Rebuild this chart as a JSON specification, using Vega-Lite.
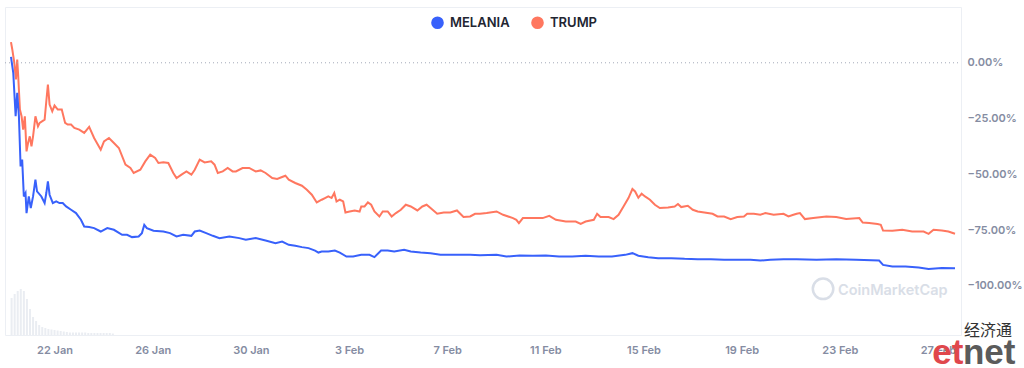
{
  "$schema": "https://vega.github.io/schema/vega-lite/v6.json",
  "width": 956,
  "height": 328,
  "autosize": {"type": "none"},
  "padding": {"left": 5, "top": 7, "right": 63, "bottom": 33},
  "background": "#ffffff",
  "config": {"view": {"stroke": "#eceff4", "strokeWidth": 1}, "font": "Inter"},
  "datasets": {
    "volume": [
      {"time": "2025-01-20T06:00", "vol": 74}, {"time": "2025-01-20T09:00", "vol": 82}, {"time": "2025-01-20T12:00", "vol": 88},
      {"time": "2025-01-20T15:00", "vol": 92}, {"time": "2025-01-20T18:00", "vol": 88}, {"time": "2025-01-20T21:00", "vol": 72},
      {"time": "2025-01-21T00:00", "vol": 52}, {"time": "2025-01-21T03:00", "vol": 36}, {"time": "2025-01-21T06:00", "vol": 28},
      {"time": "2025-01-21T09:00", "vol": 20}, {"time": "2025-01-21T12:00", "vol": 16}, {"time": "2025-01-21T15:00", "vol": 14},
      {"time": "2025-01-21T18:00", "vol": 12}, {"time": "2025-01-21T21:00", "vol": 11}, {"time": "2025-01-22T00:00", "vol": 10},
      {"time": "2025-01-22T03:00", "vol": 9}, {"time": "2025-01-22T06:00", "vol": 8}, {"time": "2025-01-22T09:00", "vol": 7},
      {"time": "2025-01-22T12:00", "vol": 6}, {"time": "2025-01-22T15:00", "vol": 5}, {"time": "2025-01-22T18:00", "vol": 5},
      {"time": "2025-01-22T21:00", "vol": 5}, {"time": "2025-01-23T00:00", "vol": 5}, {"time": "2025-01-23T03:00", "vol": 5},
      {"time": "2025-01-23T06:00", "vol": 5}, {"time": "2025-01-23T09:00", "vol": 4}, {"time": "2025-01-23T12:00", "vol": 4},
      {"time": "2025-01-23T15:00", "vol": 4}, {"time": "2025-01-23T18:00", "vol": 4}, {"time": "2025-01-23T21:00", "vol": 4},
      {"time": "2025-01-24T00:00", "vol": 4}, {"time": "2025-01-24T03:00", "vol": 4}, {"time": "2025-01-24T06:00", "vol": 4},
      {"time": "2025-01-24T09:00", "vol": 3}
    ],
    "prices": [
      {"time": "2025-01-20T05:25", "coin": "TRUMP", "change": 9.25},
      {"time": "2025-01-20T06:41", "coin": "TRUMP", "change": 5.97},
      {"time": "2025-01-20T08:37", "coin": "TRUMP", "change": 0.13},
      {"time": "2025-01-20T10:16", "coin": "TRUMP", "change": -7.5},
      {"time": "2025-01-20T11:31", "coin": "TRUMP", "change": 1.48},
      {"time": "2025-01-20T12:29", "coin": "TRUMP", "change": -6.02},
      {"time": "2025-01-20T14:08", "coin": "TRUMP", "change": -20.97},
      {"time": "2025-01-20T15:46", "coin": "TRUMP", "change": -23.98},
      {"time": "2025-01-20T17:19", "coin": "TRUMP", "change": -29.95},
      {"time": "2025-01-20T18:58", "coin": "TRUMP", "change": -23.98},
      {"time": "2025-01-20T20:37", "coin": "TRUMP", "change": -39.69},
      {"time": "2025-01-20T22:10", "coin": "TRUMP", "change": -35.79},
      {"time": "2025-01-20T23:48", "coin": "TRUMP", "change": -32.96},
      {"time": "2025-01-21T01:27", "coin": "TRUMP", "change": -37.45},
      {"time": "2025-01-21T03:00", "coin": "TRUMP", "change": -32.96},
      {"time": "2025-01-21T05:19", "coin": "TRUMP", "change": -23.98},
      {"time": "2025-01-21T07:50", "coin": "TRUMP", "change": -28.47},
      {"time": "2025-01-21T09:29", "coin": "TRUMP", "change": -26.94},
      {"time": "2025-01-21T14:19", "coin": "TRUMP", "change": -25.46},
      {"time": "2025-01-21T15:58", "coin": "TRUMP", "change": -17.24},
      {"time": "2025-01-21T17:31", "coin": "TRUMP", "change": -9.74},
      {"time": "2025-01-21T19:10", "coin": "TRUMP", "change": -18.72},
      {"time": "2025-01-21T21:46", "coin": "TRUMP", "change": -21.73},
      {"time": "2025-01-22T00:00", "coin": "TRUMP", "change": -19.17},
      {"time": "2025-01-22T03:11", "coin": "TRUMP", "change": -20.97},
      {"time": "2025-01-22T07:04", "coin": "TRUMP", "change": -20.97},
      {"time": "2025-01-22T10:21", "coin": "TRUMP", "change": -26.94},
      {"time": "2025-01-22T12:52", "coin": "TRUMP", "change": -27.71},
      {"time": "2025-01-22T16:10", "coin": "TRUMP", "change": -27.71},
      {"time": "2025-01-22T19:21", "coin": "TRUMP", "change": -29.19},
      {"time": "2025-01-23T00:11", "coin": "TRUMP", "change": -29.95},
      {"time": "2025-01-23T05:02", "coin": "TRUMP", "change": -31.43},
      {"time": "2025-01-23T09:52", "coin": "TRUMP", "change": -28.74},
      {"time": "2025-01-23T14:43", "coin": "TRUMP", "change": -33.68},
      {"time": "2025-01-23T21:11", "coin": "TRUMP", "change": -38.93},
      {"time": "2025-01-24T00:23", "coin": "TRUMP", "change": -35.2},
      {"time": "2025-01-24T05:13", "coin": "TRUMP", "change": -33.68},
      {"time": "2025-01-24T10:04", "coin": "TRUMP", "change": -35.92},
      {"time": "2025-01-24T14:54", "coin": "TRUMP", "change": -38.17},
      {"time": "2025-01-24T21:23", "coin": "TRUMP", "change": -45.67},
      {"time": "2025-01-25T02:13", "coin": "TRUMP", "change": -47.15},
      {"time": "2025-01-25T05:25", "coin": "TRUMP", "change": -49.39},
      {"time": "2025-01-25T11:54", "coin": "TRUMP", "change": -47.91},
      {"time": "2025-01-25T16:44", "coin": "TRUMP", "change": -44.19},
      {"time": "2025-01-25T21:35", "coin": "TRUMP", "change": -41.18},
      {"time": "2025-01-26T02:25", "coin": "TRUMP", "change": -42.66},
      {"time": "2025-01-26T05:37", "coin": "TRUMP", "change": -44.9},
      {"time": "2025-01-26T10:27", "coin": "TRUMP", "change": -44.63},
      {"time": "2025-01-26T15:17", "coin": "TRUMP", "change": -44.9},
      {"time": "2025-01-26T20:08", "coin": "TRUMP", "change": -49.39},
      {"time": "2025-01-26T23:19", "coin": "TRUMP", "change": -51.64},
      {"time": "2025-01-27T04:10", "coin": "TRUMP", "change": -50.16},
      {"time": "2025-01-27T09:00", "coin": "TRUMP", "change": -48.68},
      {"time": "2025-01-27T13:50", "coin": "TRUMP", "change": -50.16},
      {"time": "2025-01-27T17:07", "coin": "TRUMP", "change": -47.91},
      {"time": "2025-01-27T21:58", "coin": "TRUMP", "change": -43.42},
      {"time": "2025-01-28T02:48", "coin": "TRUMP", "change": -44.63},
      {"time": "2025-01-28T09:11", "coin": "TRUMP", "change": -44.19},
      {"time": "2025-01-28T12:29", "coin": "TRUMP", "change": -45.67},
      {"time": "2025-01-28T15:41", "coin": "TRUMP", "change": -49.39},
      {"time": "2025-01-28T20:31", "coin": "TRUMP", "change": -48.68},
      {"time": "2025-01-29T01:21", "coin": "TRUMP", "change": -47.15},
      {"time": "2025-01-29T06:11", "coin": "TRUMP", "change": -48.68},
      {"time": "2025-01-29T09:23", "coin": "TRUMP", "change": -48.68},
      {"time": "2025-01-29T15:52", "coin": "TRUMP", "change": -47.15},
      {"time": "2025-01-29T22:22", "coin": "TRUMP", "change": -47.15},
      {"time": "2025-01-30T04:45", "coin": "TRUMP", "change": -48.68},
      {"time": "2025-01-30T09:35", "coin": "TRUMP", "change": -48.23},
      {"time": "2025-01-30T14:25", "coin": "TRUMP", "change": -49.39},
      {"time": "2025-01-30T20:55", "coin": "TRUMP", "change": -51.64},
      {"time": "2025-01-31T01:45", "coin": "TRUMP", "change": -52.09},
      {"time": "2025-01-31T06:35", "coin": "TRUMP", "change": -51.19},
      {"time": "2025-01-31T09:47", "coin": "TRUMP", "change": -50.61},
      {"time": "2025-01-31T13:04", "coin": "TRUMP", "change": -52.4},
      {"time": "2025-01-31T19:27", "coin": "TRUMP", "change": -53.88},
      {"time": "2025-02-01T01:56", "coin": "TRUMP", "change": -55.1},
      {"time": "2025-02-01T06:46", "coin": "TRUMP", "change": -56.89},
      {"time": "2025-02-01T11:37", "coin": "TRUMP", "change": -59.14},
      {"time": "2025-02-01T16:27", "coin": "TRUMP", "change": -62.6},
      {"time": "2025-02-01T21:17", "coin": "TRUMP", "change": -61.38},
      {"time": "2025-02-02T00:29", "coin": "TRUMP", "change": -60.62},
      {"time": "2025-02-02T03:46", "coin": "TRUMP", "change": -59.9},
      {"time": "2025-02-02T06:58", "coin": "TRUMP", "change": -60.62},
      {"time": "2025-02-02T09:35", "coin": "TRUMP", "change": -58.37},
      {"time": "2025-02-02T11:48", "coin": "TRUMP", "change": -62.15},
      {"time": "2025-02-02T15:00", "coin": "TRUMP", "change": -61.38},
      {"time": "2025-02-02T18:17", "coin": "TRUMP", "change": -62.15},
      {"time": "2025-02-02T20:31", "coin": "TRUMP", "change": -67.09},
      {"time": "2025-02-03T00:40", "coin": "TRUMP", "change": -66.64},
      {"time": "2025-02-03T05:31", "coin": "TRUMP", "change": -66.19},
      {"time": "2025-02-03T10:21", "coin": "TRUMP", "change": -66.64},
      {"time": "2025-02-03T11:59", "coin": "TRUMP", "change": -64.39},
      {"time": "2025-02-03T15:11", "coin": "TRUMP", "change": -64.39},
      {"time": "2025-02-03T18:28", "coin": "TRUMP", "change": -62.6},
      {"time": "2025-02-03T21:40", "coin": "TRUMP", "change": -63.63},
      {"time": "2025-02-04T00:52", "coin": "TRUMP", "change": -66.64},
      {"time": "2025-02-04T05:42", "coin": "TRUMP", "change": -68.88},
      {"time": "2025-02-04T08:59", "coin": "TRUMP", "change": -66.64},
      {"time": "2025-02-04T13:50", "coin": "TRUMP", "change": -66.64},
      {"time": "2025-02-04T17:42", "coin": "TRUMP", "change": -68.88},
      {"time": "2025-02-04T21:52", "coin": "TRUMP", "change": -67.36},
      {"time": "2025-02-05T02:42", "coin": "TRUMP", "change": -65.87},
      {"time": "2025-02-05T07:32", "coin": "TRUMP", "change": -63.63},
      {"time": "2025-02-05T12:23", "coin": "TRUMP", "change": -64.39},
      {"time": "2025-02-05T18:52", "coin": "TRUMP", "change": -66.19},
      {"time": "2025-02-05T23:43", "coin": "TRUMP", "change": -64.39},
      {"time": "2025-02-06T03:52", "coin": "TRUMP", "change": -63.63},
      {"time": "2025-02-06T07:44", "coin": "TRUMP", "change": -65.11},
      {"time": "2025-02-06T14:13", "coin": "TRUMP", "change": -67.67},
      {"time": "2025-02-06T20:37", "coin": "TRUMP", "change": -67.09},
      {"time": "2025-02-07T03:05", "coin": "TRUMP", "change": -67.09},
      {"time": "2025-02-07T09:34", "coin": "TRUMP", "change": -66.19},
      {"time": "2025-02-07T15:58", "coin": "TRUMP", "change": -69.15},
      {"time": "2025-02-07T22:27", "coin": "TRUMP", "change": -68.88},
      {"time": "2025-02-08T03:17", "coin": "TRUMP", "change": -67.67},
      {"time": "2025-02-08T08:08", "coin": "TRUMP", "change": -67.67},
      {"time": "2025-02-08T14:37", "coin": "TRUMP", "change": -67.36},
      {"time": "2025-02-09T00:17", "coin": "TRUMP", "change": -66.64},
      {"time": "2025-02-09T06:41", "coin": "TRUMP", "change": -68.12},
      {"time": "2025-02-09T16:22", "coin": "TRUMP", "change": -69.6},
      {"time": "2025-02-09T19:39", "coin": "TRUMP", "change": -70.36},
      {"time": "2025-02-09T22:10", "coin": "TRUMP", "change": -71.85},
      {"time": "2025-02-10T02:02", "coin": "TRUMP", "change": -69.6},
      {"time": "2025-02-10T11:43", "coin": "TRUMP", "change": -69.6},
      {"time": "2025-02-10T21:23", "coin": "TRUMP", "change": -69.6},
      {"time": "2025-02-11T03:52", "coin": "TRUMP", "change": -68.57},
      {"time": "2025-02-11T10:22", "coin": "TRUMP", "change": -70.36},
      {"time": "2025-02-11T20:02", "coin": "TRUMP", "change": -71.13},
      {"time": "2025-02-12T05:43", "coin": "TRUMP", "change": -71.13},
      {"time": "2025-02-12T10:33", "coin": "TRUMP", "change": -72.16},
      {"time": "2025-02-12T15:23", "coin": "TRUMP", "change": -71.13},
      {"time": "2025-02-12T23:25", "coin": "TRUMP", "change": -70.36},
      {"time": "2025-02-13T02:37", "coin": "TRUMP", "change": -67.67},
      {"time": "2025-02-13T05:55", "coin": "TRUMP", "change": -69.15},
      {"time": "2025-02-13T13:56", "coin": "TRUMP", "change": -69.15},
      {"time": "2025-02-13T18:46", "coin": "TRUMP", "change": -70.05},
      {"time": "2025-02-13T23:37", "coin": "TRUMP", "change": -68.12},
      {"time": "2025-02-14T04:27", "coin": "TRUMP", "change": -64.39},
      {"time": "2025-02-14T09:17", "coin": "TRUMP", "change": -60.62},
      {"time": "2025-02-14T13:10", "coin": "TRUMP", "change": -56.58},
      {"time": "2025-02-14T15:47", "coin": "TRUMP", "change": -57.66},
      {"time": "2025-02-14T18:58", "coin": "TRUMP", "change": -60.5},
      {"time": "2025-02-14T22:10", "coin": "TRUMP", "change": -58.69},
      {"time": "2025-02-15T01:28", "coin": "TRUMP", "change": -59.9},
      {"time": "2025-02-15T06:18", "coin": "TRUMP", "change": -61.38},
      {"time": "2025-02-15T11:08", "coin": "TRUMP", "change": -63.63},
      {"time": "2025-02-15T15:58", "coin": "TRUMP", "change": -65.11},
      {"time": "2025-02-16T00:00", "coin": "TRUMP", "change": -64.84},
      {"time": "2025-02-16T06:29", "coin": "TRUMP", "change": -64.39},
      {"time": "2025-02-16T09:41", "coin": "TRUMP", "change": -63.31},
      {"time": "2025-02-16T12:53", "coin": "TRUMP", "change": -64.66},
      {"time": "2025-02-16T19:21", "coin": "TRUMP", "change": -64.08},
      {"time": "2025-02-17T00:11", "coin": "TRUMP", "change": -65.87},
      {"time": "2025-02-17T05:02", "coin": "TRUMP", "change": -66.64},
      {"time": "2025-02-17T11:31", "coin": "TRUMP", "change": -67.09},
      {"time": "2025-02-17T19:33", "coin": "TRUMP", "change": -67.67},
      {"time": "2025-02-18T00:23", "coin": "TRUMP", "change": -68.88},
      {"time": "2025-02-18T06:52", "coin": "TRUMP", "change": -68.88},
      {"time": "2025-02-18T13:16", "coin": "TRUMP", "change": -70.05},
      {"time": "2025-02-18T19:44", "coin": "TRUMP", "change": -69.15},
      {"time": "2025-02-19T02:14", "coin": "TRUMP", "change": -68.88},
      {"time": "2025-02-19T05:25", "coin": "TRUMP", "change": -67.67},
      {"time": "2025-02-19T11:54", "coin": "TRUMP", "change": -67.67},
      {"time": "2025-02-19T18:17", "coin": "TRUMP", "change": -68.12},
      {"time": "2025-02-19T23:08", "coin": "TRUMP", "change": -67.36},
      {"time": "2025-02-20T07:16", "coin": "TRUMP", "change": -68.12},
      {"time": "2025-02-20T16:56", "coin": "TRUMP", "change": -67.67},
      {"time": "2025-02-20T21:47", "coin": "TRUMP", "change": -68.88},
      {"time": "2025-02-21T02:37", "coin": "TRUMP", "change": -68.12},
      {"time": "2025-02-21T05:48", "coin": "TRUMP", "change": -67.67},
      {"time": "2025-02-21T09:00", "coin": "TRUMP", "change": -67.36},
      {"time": "2025-02-21T13:51", "coin": "TRUMP", "change": -70.05},
      {"time": "2025-02-21T21:58", "coin": "TRUMP", "change": -69.6},
      {"time": "2025-02-22T10:50", "coin": "TRUMP", "change": -68.88},
      {"time": "2025-02-22T20:31", "coin": "TRUMP", "change": -69.15},
      {"time": "2025-02-23T06:11", "coin": "TRUMP", "change": -70.05},
      {"time": "2025-02-23T19:04", "coin": "TRUMP", "change": -69.6},
      {"time": "2025-02-23T22:22", "coin": "TRUMP", "change": -71.58},
      {"time": "2025-02-24T04:45", "coin": "TRUMP", "change": -71.85},
      {"time": "2025-02-24T12:53", "coin": "TRUMP", "change": -72.29},
      {"time": "2025-02-24T16:04", "coin": "TRUMP", "change": -72.61},
      {"time": "2025-02-24T18:17", "coin": "TRUMP", "change": -75.17},
      {"time": "2025-02-25T03:23", "coin": "TRUMP", "change": -75.3},
      {"time": "2025-02-25T13:04", "coin": "TRUMP", "change": -74.85},
      {"time": "2025-02-25T22:45", "coin": "TRUMP", "change": -75.62},
      {"time": "2025-02-26T09:58", "coin": "TRUMP", "change": -75.62},
      {"time": "2025-02-26T14:49", "coin": "TRUMP", "change": -76.65},
      {"time": "2025-02-26T19:39", "coin": "TRUMP", "change": -74.85},
      {"time": "2025-02-27T03:47", "coin": "TRUMP", "change": -75.17},
      {"time": "2025-02-27T10:10", "coin": "TRUMP", "change": -75.62},
      {"time": "2025-02-27T16:39", "coin": "TRUMP", "change": -76.65},
      {"time": "2025-01-20T05:25", "coin": "MELANIA", "change": 2.69},
      {"time": "2025-01-20T07:38", "coin": "MELANIA", "change": -4.49},
      {"time": "2025-01-20T09:58", "coin": "MELANIA", "change": -23.98},
      {"time": "2025-01-20T11:31", "coin": "MELANIA", "change": -13.47},
      {"time": "2025-01-20T13:10", "coin": "MELANIA", "change": -23.98},
      {"time": "2025-01-20T14:48", "coin": "MELANIA", "change": -46.43},
      {"time": "2025-01-20T16:21", "coin": "MELANIA", "change": -43.42},
      {"time": "2025-01-20T17:59", "coin": "MELANIA", "change": -59.9},
      {"time": "2025-01-20T19:38", "coin": "MELANIA", "change": -58.37},
      {"time": "2025-01-20T20:37", "coin": "MELANIA", "change": -67.36},
      {"time": "2025-01-20T22:50", "coin": "MELANIA", "change": -59.9},
      {"time": "2025-01-21T00:46", "coin": "MELANIA", "change": -65.11},
      {"time": "2025-01-21T03:00", "coin": "MELANIA", "change": -59.9},
      {"time": "2025-01-21T05:19", "coin": "MELANIA", "change": -52.4},
      {"time": "2025-01-21T06:52", "coin": "MELANIA", "change": -57.66},
      {"time": "2025-01-21T11:08", "coin": "MELANIA", "change": -59.9},
      {"time": "2025-01-21T14:19", "coin": "MELANIA", "change": -62.87},
      {"time": "2025-01-21T15:58", "coin": "MELANIA", "change": -58.37},
      {"time": "2025-01-21T17:31", "coin": "MELANIA", "change": -53.17},
      {"time": "2025-01-21T19:10", "coin": "MELANIA", "change": -59.14},
      {"time": "2025-01-21T22:21", "coin": "MELANIA", "change": -62.87},
      {"time": "2025-01-22T01:38", "coin": "MELANIA", "change": -62.15},
      {"time": "2025-01-22T04:50", "coin": "MELANIA", "change": -62.87},
      {"time": "2025-01-22T08:02", "coin": "MELANIA", "change": -62.87},
      {"time": "2025-01-22T11:19", "coin": "MELANIA", "change": -64.39},
      {"time": "2025-01-22T16:10", "coin": "MELANIA", "change": -65.87},
      {"time": "2025-01-22T21:00", "coin": "MELANIA", "change": -67.36},
      {"time": "2025-01-23T01:50", "coin": "MELANIA", "change": -70.36},
      {"time": "2025-01-23T05:02", "coin": "MELANIA", "change": -73.37},
      {"time": "2025-01-23T09:52", "coin": "MELANIA", "change": -73.64},
      {"time": "2025-01-23T14:43", "coin": "MELANIA", "change": -74.09},
      {"time": "2025-01-23T21:11", "coin": "MELANIA", "change": -75.62},
      {"time": "2025-01-24T03:35", "coin": "MELANIA", "change": -74.09},
      {"time": "2025-01-24T10:04", "coin": "MELANIA", "change": -74.85},
      {"time": "2025-01-24T18:06", "coin": "MELANIA", "change": -77.1},
      {"time": "2025-01-24T22:56", "coin": "MELANIA", "change": -77.1},
      {"time": "2025-01-25T03:46", "coin": "MELANIA", "change": -78.13},
      {"time": "2025-01-25T10:16", "coin": "MELANIA", "change": -77.86},
      {"time": "2025-01-25T13:27", "coin": "MELANIA", "change": -76.34},
      {"time": "2025-01-25T15:46", "coin": "MELANIA", "change": -72.61},
      {"time": "2025-01-25T18:17", "coin": "MELANIA", "change": -74.09},
      {"time": "2025-01-26T00:46", "coin": "MELANIA", "change": -75.3},
      {"time": "2025-01-26T10:27", "coin": "MELANIA", "change": -75.62},
      {"time": "2025-01-26T16:56", "coin": "MELANIA", "change": -76.34},
      {"time": "2025-01-26T23:19", "coin": "MELANIA", "change": -77.86},
      {"time": "2025-01-27T05:48", "coin": "MELANIA", "change": -77.1},
      {"time": "2025-01-27T13:50", "coin": "MELANIA", "change": -77.55},
      {"time": "2025-01-27T17:07", "coin": "MELANIA", "change": -75.62},
      {"time": "2025-01-27T21:58", "coin": "MELANIA", "change": -75.17},
      {"time": "2025-01-28T04:21", "coin": "MELANIA", "change": -76.34},
      {"time": "2025-01-28T10:50", "coin": "MELANIA", "change": -77.55},
      {"time": "2025-01-28T17:19", "coin": "MELANIA", "change": -78.58},
      {"time": "2025-01-29T03:00", "coin": "MELANIA", "change": -77.86},
      {"time": "2025-01-29T12:41", "coin": "MELANIA", "change": -78.58},
      {"time": "2025-01-29T19:04", "coin": "MELANIA", "change": -79.34},
      {"time": "2025-01-30T04:45", "coin": "MELANIA", "change": -78.58},
      {"time": "2025-01-30T14:25", "coin": "MELANIA", "change": -79.66},
      {"time": "2025-01-31T00:06", "coin": "MELANIA", "change": -80.83},
      {"time": "2025-01-31T06:35", "coin": "MELANIA", "change": -80.11},
      {"time": "2025-01-31T13:04", "coin": "MELANIA", "change": -81.59},
      {"time": "2025-01-31T19:27", "coin": "MELANIA", "change": -82.04},
      {"time": "2025-02-01T01:56", "coin": "MELANIA", "change": -82.62},
      {"time": "2025-02-01T08:25", "coin": "MELANIA", "change": -83.07},
      {"time": "2025-02-01T14:48", "coin": "MELANIA", "change": -84.15},
      {"time": "2025-02-01T18:05", "coin": "MELANIA", "change": -85.05},
      {"time": "2025-02-01T21:17", "coin": "MELANIA", "change": -84.6},
      {"time": "2025-02-02T03:46", "coin": "MELANIA", "change": -84.6},
      {"time": "2025-02-02T10:10", "coin": "MELANIA", "change": -84.15},
      {"time": "2025-02-02T15:00", "coin": "MELANIA", "change": -85.05},
      {"time": "2025-02-02T21:29", "coin": "MELANIA", "change": -86.84},
      {"time": "2025-02-03T03:58", "coin": "MELANIA", "change": -86.84},
      {"time": "2025-02-03T11:59", "coin": "MELANIA", "change": -86.08},
      {"time": "2025-02-03T20:01", "coin": "MELANIA", "change": -86.08},
      {"time": "2025-02-04T00:52", "coin": "MELANIA", "change": -87.11},
      {"time": "2025-02-04T07:21", "coin": "MELANIA", "change": -84.15},
      {"time": "2025-02-04T13:50", "coin": "MELANIA", "change": -84.15},
      {"time": "2025-02-04T20:13", "coin": "MELANIA", "change": -84.6},
      {"time": "2025-02-05T05:54", "coin": "MELANIA", "change": -83.83},
      {"time": "2025-02-05T12:23", "coin": "MELANIA", "change": -84.6},
      {"time": "2025-02-05T22:04", "coin": "MELANIA", "change": -85.05},
      {"time": "2025-02-06T07:44", "coin": "MELANIA", "change": -85.32},
      {"time": "2025-02-06T17:25", "coin": "MELANIA", "change": -86.08},
      {"time": "2025-02-07T03:05", "coin": "MELANIA", "change": -86.08},
      {"time": "2025-02-07T12:46", "coin": "MELANIA", "change": -86.08},
      {"time": "2025-02-07T22:27", "coin": "MELANIA", "change": -86.08},
      {"time": "2025-02-08T08:08", "coin": "MELANIA", "change": -86.3},
      {"time": "2025-02-09T00:17", "coin": "MELANIA", "change": -86.08},
      {"time": "2025-02-09T09:58", "coin": "MELANIA", "change": -86.84},
      {"time": "2025-02-09T22:50", "coin": "MELANIA", "change": -86.39},
      {"time": "2025-02-10T11:43", "coin": "MELANIA", "change": -86.53},
      {"time": "2025-02-11T00:33", "coin": "MELANIA", "change": -86.39},
      {"time": "2025-02-11T13:25", "coin": "MELANIA", "change": -86.84},
      {"time": "2025-02-12T02:17", "coin": "MELANIA", "change": -86.84},
      {"time": "2025-02-12T15:23", "coin": "MELANIA", "change": -86.53},
      {"time": "2025-02-13T04:16", "coin": "MELANIA", "change": -86.84},
      {"time": "2025-02-13T17:08", "coin": "MELANIA", "change": -86.84},
      {"time": "2025-02-14T06:06", "coin": "MELANIA", "change": -86.08},
      {"time": "2025-02-14T13:10", "coin": "MELANIA", "change": -85.32},
      {"time": "2025-02-14T18:58", "coin": "MELANIA", "change": -86.44},
      {"time": "2025-02-15T04:38", "coin": "MELANIA", "change": -87.11},
      {"time": "2025-02-15T14:19", "coin": "MELANIA", "change": -87.56},
      {"time": "2025-02-16T03:11", "coin": "MELANIA", "change": -87.56},
      {"time": "2025-02-16T16:10", "coin": "MELANIA", "change": -87.88},
      {"time": "2025-02-17T05:02", "coin": "MELANIA", "change": -88.01},
      {"time": "2025-02-17T17:54", "coin": "MELANIA", "change": -88.01},
      {"time": "2025-02-18T06:52", "coin": "MELANIA", "change": -88.33},
      {"time": "2025-02-18T19:44", "coin": "MELANIA", "change": -88.33},
      {"time": "2025-02-19T08:37", "coin": "MELANIA", "change": -88.33},
      {"time": "2025-02-19T18:17", "coin": "MELANIA", "change": -88.64},
      {"time": "2025-02-20T03:58", "coin": "MELANIA", "change": -88.33},
      {"time": "2025-02-20T16:56", "coin": "MELANIA", "change": -88.01},
      {"time": "2025-02-21T05:48", "coin": "MELANIA", "change": -88.01},
      {"time": "2025-02-22T01:10", "coin": "MELANIA", "change": -88.33},
      {"time": "2025-02-22T20:31", "coin": "MELANIA", "change": -88.01},
      {"time": "2025-02-23T15:53", "coin": "MELANIA", "change": -88.33},
      {"time": "2025-02-24T14:26", "coin": "MELANIA", "change": -88.64},
      {"time": "2025-02-24T18:17", "coin": "MELANIA", "change": -90.57},
      {"time": "2025-02-25T03:23", "coin": "MELANIA", "change": -91.33},
      {"time": "2025-02-25T16:16", "coin": "MELANIA", "change": -91.33},
      {"time": "2025-02-26T05:08", "coin": "MELANIA", "change": -91.78},
      {"time": "2025-02-26T14:49", "coin": "MELANIA", "change": -92.37},
      {"time": "2025-02-27T03:47", "coin": "MELANIA", "change": -91.92},
      {"time": "2025-02-27T16:39", "coin": "MELANIA", "change": -92.05}
    ]
  },
  "encoding": {
    "x": {
      "field": "time",
      "type": "temporal",
      "scale": {
        "domain": [
          {"year": 2025, "month": "Jan", "date": 20, "hours": 4, "minutes": 27},
          {"year": 2025, "month": "Feb", "date": 27, "hours": 17, "minutes": 37}
        ],
        "nice": false
      },
      "axis": {
        "title": null,
        "domain": false,
        "ticks": false,
        "grid": false,
        "format": "%-d %b",
        "values": [
          {"year": 2025, "month": "Jan", "date": 22},
          {"year": 2025, "month": "Jan", "date": 26},
          {"year": 2025, "month": "Jan", "date": 30},
          {"year": 2025, "month": "Feb", "date": 3},
          {"year": 2025, "month": "Feb", "date": 7},
          {"year": 2025, "month": "Feb", "date": 11},
          {"year": 2025, "month": "Feb", "date": 15},
          {"year": 2025, "month": "Feb", "date": 19},
          {"year": 2025, "month": "Feb", "date": 23},
          {"year": 2025, "month": "Feb", "date": 27}
        ],
        "labelFont": "Inter",
        "labelFontSize": 11,
        "labelFontWeight": 600,
        "labelColor": "#858ca2",
        "labelPadding": 9,
        "labelOverlap": false
      }
    }
  },
  "layer": [
    {
      "data": {"name": "volume"},
      "mark": {"type": "bar", "size": 2, "color": "#eaedf2"},
      "encoding": {
        "y": {"field": "vol", "type": "quantitative", "scale": {"domain": [0, 656], "nice": false}, "axis": null}
      }
    },
    {
      "encoding": {
        "y": {
          "field": "change",
          "type": "quantitative",
          "scale": {"domain": [-122, 25], "nice": false, "zero": false},
          "axis": {
            "orient": "right",
            "title": null,
            "domain": false,
            "ticks": false,
            "values": [0, -25, -50, -75, -100],
            "labelExpr": "format(datum.value, '.2f') + '%'",
            "labelFont": "Inter",
            "labelFontSize": 11,
            "labelFontWeight": 600,
            "labelColor": "#858ca2",
            "labelPadding": 6,
            "gridColor": {"condition": {"test": "datum.value === 0", "value": "transparent"}, "value": "#eff2f5"}
          }
        }
      },
      "layer": [
        {
          "data": {"name": "prices"},
          "mark": {"type": "line", "strokeWidth": 2, "interpolate": "linear"},
          "encoding": {
            "color": {
              "field": "coin",
              "type": "nominal",
              "scale": {"domain": ["MELANIA", "TRUMP"], "range": ["#3861fb", "#ff775f"]},
              "legend": {
                "orient": "none",
                "legendX": 426,
                "legendY": 9,
                "direction": "horizontal",
                "title": null,
                "symbolType": "circle",
                "symbolSize": 160,
                "symbolStrokeWidth": 0,
                "labelFont": "Inter",
                "labelFontSize": 13,
                "labelFontWeight": 600,
                "labelColor": "#222531",
                "labelOffset": 6,
                "columnPadding": 21,
                "encode": {"symbols": {"update": {"fill": {"scale": "color", "field": "value"}, "opacity": {"value": 1}}}}
              }
            }
          }
        },
        {
          "data": {"values": [{"change": 0}]},
          "mark": {"type": "rule", "strokeDash": [1, 3], "color": "#a3a9b8", "strokeWidth": 1},
          "encoding": {"x": {"value": 0}, "x2": {"value": 956}}
        },
        {
          "data": {"values": [{"time": "2025-02-22T07:36", "change": -101.3}]},
          "mark": {"type": "point", "shape": "circle", "filled": false, "size": 420, "strokeWidth": 2.5, "color": "#d9dee7", "opacity": 1}
        },
        {
          "data": {"values": [{"time": "2025-02-22T22:12", "change": -102.1, "label": "CoinMarketCap"}]},
          "mark": {"type": "text", "font": "Inter", "fontSize": 14.5, "fontWeight": 600, "color": "#d9dee7", "align": "left", "baseline": "middle"},
          "encoding": {"text": {"field": "label"}}
        },
        {
          "data": {"values": [{"time": "2025-03-01T01:00", "change": -120.4, "label": "经济通"}]},
          "mark": {"type": "text", "font": "Noto Sans CJK SC", "fontSize": 16, "color": "#333333", "align": "center", "baseline": "middle"},
          "encoding": {"text": {"field": "label"}}
        },
        {
          "data": {"values": [{"time": "2025-02-26T18:24", "change": -135, "label": "et"}]},
          "mark": {"type": "text", "font": "Liberation Sans", "fontSize": 35, "fontWeight": "bold", "color": "#e0474c", "align": "left", "baseline": "alphabetic"},
          "encoding": {"text": {"field": "label"}}
        },
        {
          "data": {"values": [{"time": "2025-02-28T00:24", "change": -135, "label": "net"}]},
          "mark": {"type": "text", "font": "Liberation Sans", "fontSize": 35, "fontWeight": "bold", "color": "#5b5b5b", "align": "left", "baseline": "alphabetic"},
          "encoding": {"text": {"field": "label"}}
        }
      ]
    }
  ],
  "resolve": {"scale": {"y": "independent"}}
}
